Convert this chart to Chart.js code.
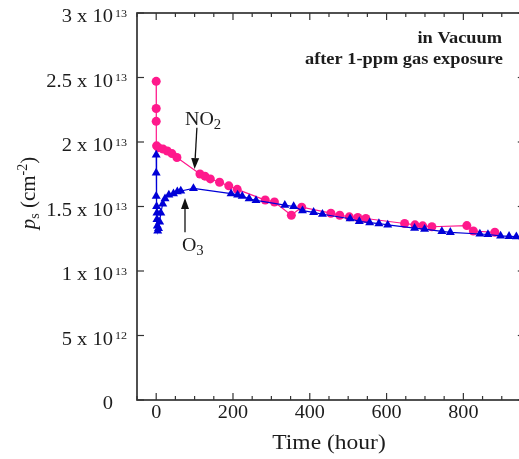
<!DOCTYPE html>
<html><head><meta charset="utf-8">
<script src="https://cdn.jsdelivr.net/npm/chart.js@4/dist/chart.umd.min.js"></script>
<style>html,body{margin:0;padding:0;background:#fff;overflow:hidden}
#wrap{position:relative;width:530px;height:459px}</style></head>
<body><div id="wrap"><canvas id="c"></canvas></div>
<script>
// ---- data (p_s in units of 10^13 cm^-2, time in hours) ----
const no2Time = [0,0,0,1,6,18,29,41,54,114,127,141,165,189,211,284,308,352,379,455,478,503,525,546,647,674,694,718,809,826,882];
const no2Ps   = [2.47,2.26,2.16,1.97,1.955,1.945,1.93,1.91,1.88,1.752,1.735,1.714,1.688,1.66,1.633,1.55,1.535,1.432,1.495,1.448,1.432,1.42,1.415,1.407,1.368,1.358,1.35,1.343,1.352,1.31,1.30];
const o3Time  = [0,0,0,1,2,2,3,4,6,9,12,17,23,33,45,55,64,97,195,212,224,242,260,335,358,381,410,433,505,529,556,580,603,673,699,744,766,843,864,897,919,938,955];
const o3Ps    = [1.90,1.76,1.58,1.50,1.45,1.40,1.35,1.31,1.33,1.38,1.45,1.52,1.56,1.59,1.60,1.615,1.62,1.64,1.60,1.59,1.58,1.56,1.547,1.51,1.50,1.468,1.455,1.44,1.405,1.385,1.375,1.368,1.357,1.332,1.325,1.307,1.30,1.287,1.283,1.272,1.269,1.266,1.264];
const xTickValues = [0,200,400,600,800];
const yTickValues = [0,0.5,1,1.5,2,2.5,3];
const yTickMantissa = ['0','5 x 10','1 x 10','1.5 x 10','2 x 10','2.5 x 10','3 x 10'];
const yTickExponent = ['','12','13','13','13','13','13'];
const textLines = ['in Vacuum','after 1-ppm gas exposure'];

const PINK = 'rgb(255,25,140)';
const BLUE = 'rgb(0,0,215)';
const SERIF = '"Liberation Serif","DejaVu Serif",serif';

function toXY(ts, vs){ return ts.map((t,i)=>({x:t,y:vs[i]})); }

function txt(ctx, s, x, y, font, align, sx){
  ctx.save(); ctx.translate(x,y); ctx.scale(sx||1,1);
  ctx.font=font; ctx.textAlign=align||'left'; ctx.textBaseline='alphabetic';
  ctx.fillText(s,0,0); ctx.restore();
}
function tw(ctx, s, font, sx){ ctx.save(); ctx.font=font; const w=ctx.measureText(s).width*(sx||1); ctx.restore(); return w; }
function seg(ctx,x1,y1,x2,y2){ ctx.beginPath(); ctx.moveTo(x1,y1); ctx.lineTo(x2,y2); ctx.stroke(); }
function arrow(ctx,x1,y1,x2,y2){
  const ang=Math.atan2(y2-y1,x2-x1), L=11, W=4;
  const bx=x2-L*Math.cos(ang), by=y2-L*Math.sin(ang);
  seg(ctx,x1,y1,bx,by);
  ctx.beginPath(); ctx.moveTo(x2,y2);
  ctx.lineTo(bx+W*Math.sin(ang), by-W*Math.cos(ang));
  ctx.lineTo(bx-W*Math.sin(ang), by+W*Math.cos(ang));
  ctx.closePath(); ctx.fill();
}

const annotations = [
  {main:'NO', sub:'2', t:75, v:2.135, arrowFrom:[106,2.11], arrowTo:[100,1.79]},
  {main:'O',  sub:'3', t:67, v:1.155, arrowFrom:[75,1.30], arrowTo:[75,1.566]}
];

const framePlugin = {
  id:'frame',
  beforeDatasetsDraw(chart){
    const {ctx, chartArea:a, scales:{x,y}} = chart;
    ctx.save();
    ctx.strokeStyle='#333'; ctx.lineWidth=1.7;
    ctx.strokeRect(a.left,a.top,a.right-a.left,a.bottom-a.top);
    ctx.lineWidth=1.2;
    for(let v=Math.ceil(x.min/50)*50; v<=x.max; v+=50){
      const px=x.getPixelForValue(v);
      const L=(v%200===0)?7:4;
      seg(ctx,px,a.bottom,px,a.bottom-L);
      seg(ctx,px,a.top,px,a.top+L);
    }
    yTickValues.forEach(v=>{
      const py=y.getPixelForValue(v);
      seg(ctx,a.left,py,a.left+7,py);
      seg(ctx,a.right,py,a.right-7,py);
    });
    ctx.restore();
  },
  afterDraw(chart){
    const {ctx, chartArea:a, scales:{x,y}} = chart;
    ctx.save();
    ctx.fillStyle='#1c1c1c';
    const fMain='18px '+SERIF, fSup='11px '+SERIF;
    yTickValues.forEach((v,i)=>{
      const py=y.getPixelForValue(v);
      txt(ctx,yTickMantissa[i],113,py+9,fMain,'right',1.14);
      if(yTickExponent[i]) txt(ctx,yTickExponent[i],115,py+3.5,fSup,'left',1.1);
    });
    xTickValues.forEach(v=>{
      txt(ctx,String(v),x.getPixelForValue(v),417.5,'18px '+SERIF,'center',1.12);
    });
    txt(ctx,'Time (hour)',(a.left+519)/2+1,449,'21px '+SERIF,'center',1.12);
    ctx.save();
    ctx.translate(35,193); ctx.rotate(-Math.PI/2);
    const fT='21px '+SERIF, fTi='italic 21px '+SERIF, fS='14px '+SERIF;
    const parts=[['p',fTi,0],['s',fS,4],[' (cm',fT,0],['-2',fS,-8],[')',fT,0]];
    let total=0; parts.forEach(p=>total+=tw(ctx,p[0],p[1]));
    let cx=-total/2;
    parts.forEach(p=>{ txt(ctx,p[0],cx,p[2],p[1],'left',1); cx+=tw(ctx,p[0],p[1]); });
    ctx.restore();
    txt(ctx,textLines[0],502,43,'bold 17px '+SERIF,'right',1.08);
    txt(ctx,textLines[1],503,64,'bold 17px '+SERIF,'right',1.08);
    ctx.strokeStyle='#111'; ctx.lineWidth=1.3;
    annotations.forEach(an=>{
      const px=x.getPixelForValue(an.t), py=y.getPixelForValue(an.v);
      ctx.fillStyle='#1c1c1c';
      txt(ctx,an.main,px,py,'19px '+SERIF,'left',1.05);
      const w=tw(ctx,an.main,'19px '+SERIF,1.05);
      txt(ctx,an.sub,px+w,py+4,'14px '+SERIF,'left',1.05);
      ctx.fillStyle='#111';
      arrow(ctx,x.getPixelForValue(an.arrowFrom[0]),y.getPixelForValue(an.arrowFrom[1]),
                x.getPixelForValue(an.arrowTo[0]),y.getPixelForValue(an.arrowTo[1]));
    });
    ctx.restore();
  }
};

new Chart(document.getElementById('c'),{
  type:'line',
  data:{datasets:[
    {label:'O3', data:toXY(o3Time,o3Ps), borderColor:BLUE, backgroundColor:BLUE, borderWidth:1.2,
     pointStyle:'triangle', pointRadius:5.2, pointBorderWidth:0, pointBackgroundColor:BLUE, tension:0},
    {label:'NO2', data:toXY(no2Time,no2Ps), borderColor:PINK, backgroundColor:PINK, borderWidth:1.2,
     pointStyle:'circle', pointRadius:4.5, pointBorderWidth:0, pointBackgroundColor:PINK, tension:0}
  ]},
  options:{
    responsive:true, maintainAspectRatio:false, animation:false,
    layout:{padding:{left:137,top:13,right:4,bottom:59}},
    plugins:{legend:{display:false}, tooltip:{enabled:false}},
    scales:{
      x:{type:'linear', min:-50, max:960, display:false},
      y:{type:'linear', min:0, max:3, display:false}
    }
  },
  plugins:[framePlugin]
});
</script></body></html>
